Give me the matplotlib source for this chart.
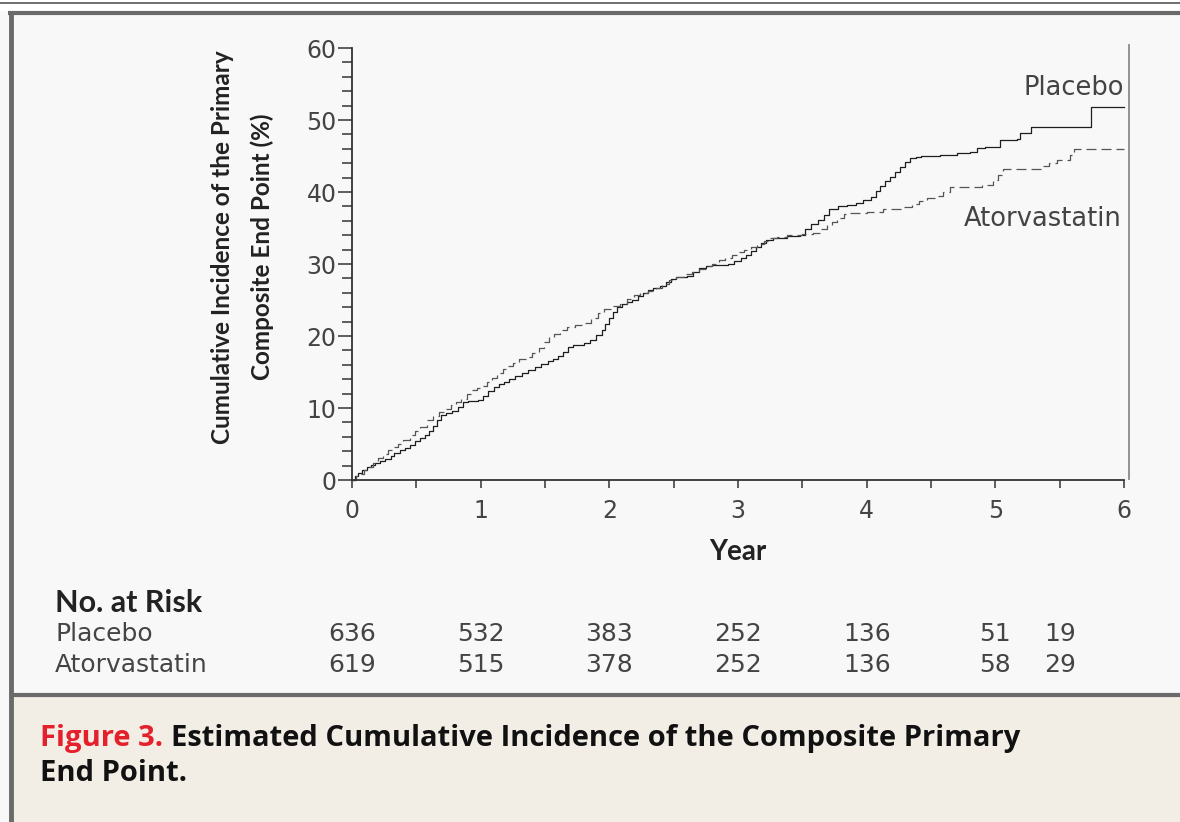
import matplotlib
matplotlib.use("Agg")
import matplotlib.pyplot as plt
from matplotlib.patches import Rectangle
from matplotlib.lines import Line2D

W, H = 1180, 822

# cumulative incidence (%)
placebo_t = [0, 0.02, 0.05, 0.08, 0.12, 0.15, 0.18, 0.22, 0.26, 0.30,
             0.33, 0.37, 0.41, 0.45, 0.49, 0.53, 0.57, 0.60, 0.63, 0.66,
             0.69, 0.73, 0.78, 0.82, 0.86, 0.90, 0.98, 1.02, 1.06, 1.10,
             1.14, 1.18, 1.22, 1.27, 1.32, 1.37, 1.42, 1.47, 1.52, 1.56,
             1.60, 1.64, 1.68, 1.72, 1.80, 1.85, 1.90, 1.94, 1.97, 2.00,
             2.03, 2.06, 2.10, 2.14, 2.18, 2.22, 2.26, 2.30, 2.34, 2.39,
             2.44, 2.48, 2.52, 2.60, 2.65, 2.70, 2.75, 2.80, 2.92, 2.97,
             3.02, 3.06, 3.10, 3.14, 3.18, 3.22, 3.27, 3.38, 3.48, 3.52,
             3.57, 3.62, 3.67, 3.71, 3.78, 3.85, 3.92, 3.97, 4.03, 4.07,
             4.10, 4.14, 4.18, 4.22, 4.26, 4.30, 4.34, 4.38, 4.42, 4.57,
             4.70, 4.80, 4.86, 4.92, 5.00, 5.04, 5.17, 5.19, 5.28, 5.74,
             6.0]
placebo_v = [0, 0.5, 1.0, 1.4, 1.8, 2.1, 2.4, 2.6, 2.9, 3.4,
             3.8, 4.1, 4.4, 4.9, 5.4, 5.8, 6.2, 6.8, 7.5, 8.3,
             9.0, 9.3, 9.6, 10.2, 10.8, 11.0, 11.1, 11.7, 12.3, 12.9,
             13.3, 13.6, 14.0, 14.5, 14.9, 15.3, 15.7, 16.1, 16.5, 16.8,
             17.2, 17.8, 18.5, 18.8, 19.0, 19.5, 20.1, 20.8, 21.6, 22.5,
             23.3, 24.0, 24.4, 24.7, 25.0, 25.5, 26.0, 26.4, 26.7, 27.0,
             27.5, 27.9, 28.2, 28.4, 28.9, 29.4, 29.7, 29.9, 30.0, 30.4,
             30.8, 31.3, 31.8, 32.3, 32.9, 33.3, 33.6, 33.9, 34.0, 34.8,
             35.5, 36.1, 36.8, 37.6, 38.0, 38.2, 38.5, 38.9, 39.3, 40.2,
             40.9, 41.5, 42.1, 42.8, 43.5, 44.1, 44.7, 44.9, 45.0, 45.1,
             45.4, 45.6, 46.1, 46.2, 46.3, 47.2, 47.4, 48.2, 49.0, 51.8,
             51.8]

atorva_t = [0, 0.03, 0.06, 0.09, 0.12, 0.16, 0.20, 0.24, 0.28, 0.32,
            0.36, 0.40, 0.45, 0.49, 0.53, 0.58, 0.63, 0.68, 0.72, 0.77,
            0.81, 0.85, 0.89, 0.93, 0.97, 1.01, 1.05, 1.09, 1.13, 1.17,
            1.21, 1.25, 1.30, 1.35, 1.40, 1.45, 1.49, 1.53, 1.57, 1.62,
            1.67, 1.73, 1.80, 1.86, 1.91, 1.96, 2.02, 2.08, 2.14, 2.19,
            2.24, 2.30, 2.36, 2.41, 2.46, 2.52, 2.58, 2.64, 2.70, 2.75,
            2.80, 2.85, 2.90, 2.95, 3.00, 3.05, 3.10, 3.15, 3.20, 3.25,
            3.30, 3.38, 3.50, 3.58, 3.64, 3.69, 3.73, 3.77, 3.82, 3.87,
            4.00, 4.13, 4.28, 4.35, 4.41, 4.47, 4.53, 4.59, 4.65, 4.90,
            4.98, 5.02, 5.06, 5.37, 5.42, 5.48, 5.58, 5.61, 6.0]
atorva_v = [0, 0.5, 0.9, 1.4, 1.8, 2.4, 3.0, 3.6, 4.1, 4.6,
            5.0, 5.5, 6.2, 6.8, 7.3, 8.3, 8.9, 9.4, 9.9, 10.4,
            10.8, 11.3, 11.9, 12.5, 12.8, 13.1, 13.6, 14.1, 14.8, 15.4,
            15.9, 16.3, 16.8, 17.1, 17.6, 18.4, 19.2, 19.8, 20.3, 20.8,
            21.2, 21.5, 21.8, 22.5, 23.2, 23.7, 24.1, 24.5, 25.1, 25.7,
            26.0, 26.3, 26.7, 27.2, 27.8, 28.2, 28.6, 28.9, 29.3, 29.7,
            30.0, 30.5, 30.9, 31.3, 31.6, 32.0, 32.4, 32.8, 33.2, 33.6,
            33.8, 34.0, 34.1, 34.3, 34.8, 35.4, 35.9, 36.4, 36.9, 37.1,
            37.2, 37.6, 37.9, 38.3, 38.7, 39.1, 39.5, 40.0, 40.7, 41.0,
            41.7, 42.4, 43.2, 43.6, 44.0, 44.4, 45.1, 46.0, 46.0]

risk_years = [0, 1, 2, 3, 4, 5, 5.5]
risk_placebo = [636, 532, 383, 252, 136, 51, 19]
risk_atorva = [619, 515, 378, 252, 136, 58, 29]

x_ticks = [0, 1, 2, 3, 4, 5, 6]
y_ticks = [0, 10, 20, 30, 40, 50, 60]


def fx(px):
    return px / W


def fy(py):
    return 1 - py / H


fig = plt.figure(figsize=(W / 100, H / 100), dpi=100, facecolor="#f8f8f8")

# frame of the journal panel
fig.add_artist(Rectangle((0, fy(11)), 1, 11 / H, transform=fig.transFigure,
                         facecolor="white", edgecolor="none"))
fig.add_artist(Line2D([0, 1], [fy(3), fy(3)], transform=fig.transFigure,
                      color="#555555", lw=1.2))
fig.add_artist(Rectangle((fx(13), 0), 1, fy(697), transform=fig.transFigure,
                         facecolor="#f2ede5", edgecolor="none"))
fig.add_artist(Line2D([fx(8), 1], [fy(13.5), fy(13.5)], transform=fig.transFigure,
                      color="#6a6a6a", lw=3, solid_capstyle="butt"))
fig.add_artist(Line2D([fx(10.5), fx(10.5)], [0, fy(12)], transform=fig.transFigure,
                      color="#6a6a6a", lw=3.5, solid_capstyle="butt"))
fig.add_artist(Line2D([fx(12), 1], [fy(695), fy(695)], transform=fig.transFigure,
                      color="#6a6a6a", lw=3, solid_capstyle="butt"))

ax = fig.add_axes([fx(352), fy(480), fx(1124) - fx(352), fy(48) - fy(480)])
ax.set_facecolor("none")

ax.plot(placebo_t, placebo_v, drawstyle="steps-post", color="#1e1e1e", lw=0.9,
        clip_on=False)
ax.plot(atorva_t, atorva_v, drawstyle="steps-post", color="#555555", lw=0.9,
        dashes=(8, 4), clip_on=False)

ax.set_xlim(0, 6)
ax.set_ylim(0, 60)
for s in ["top", "right"]:
    ax.spines[s].set_visible(False)
for s in ["left", "bottom"]:
    ax.spines[s].set_color("#333333")
    ax.spines[s].set_linewidth(1.3)

# right-hand gray rule
ax.plot([6.04, 6.04], [0.2, 60.4], color="#8a8a8a", lw=1.3, clip_on=False)

ax.set_xticks(x_ticks)
ax.set_xticks([0.5, 1.5, 2.5, 3.5, 4.5, 5.5], minor=True)
ax.set_yticks(y_ticks)
ax.set_yticks(list(range(2, 60, 2)), minor=True)
ax.tick_params(axis="both", which="both", colors="#333333", width=1.1,
               labelcolor="#444444", labelsize=17)
ax.tick_params(axis="y", which="major", length=10, pad=1)
ax.tick_params(axis="y", which="minor", length=7)
ax.tick_params(axis="x", which="both", length=6, pad=8)
for lab in ax.get_xticklabels() + ax.get_yticklabels():
    lab.set_fontfamily("DejaVu Sans")

ax.text(6.0, 52.6, "Placebo", ha="right", va="bottom", fontsize=18.5,
        color="#444444", family="DejaVu Sans")
ax.text(5.98, 34.4, "Atorvastatin", ha="right", va="bottom", fontsize=18.5,
        color="#444444", family="DejaVu Sans")

fig.text(fx(738), fy(552), "Year", ha="center", va="center", fontsize=20,
         fontweight="bold", family="Lato", color="#222222")
fig.text(fx(222), fy(247), "Cumulative Incidence of the Primary", rotation=90,
         ha="center", va="center", fontsize=17.5, fontweight="bold", family="Lato",
         color="#222222")
fig.text(fx(262), fy(247), "Composite End Point (%)", rotation=90,
         ha="center", va="center", fontsize=17.5, fontweight="bold", family="Lato",
         color="#222222")

# number at risk table
fig.text(fx(55), fy(603), "No. at Risk", ha="left", va="center", fontsize=22,
         fontweight="bold", family="Lato", color="#222222")
fig.text(fx(55), fy(634), "Placebo", ha="left", va="center", fontsize=18,
         family="DejaVu Sans", color="#444444")
fig.text(fx(55), fy(665), "Atorvastatin", ha="left", va="center", fontsize=18,
         family="DejaVu Sans", color="#444444")
for yr, p, a in zip(risk_years, risk_placebo, risk_atorva):
    xp = ax.transData.transform((yr, 0))[0] / W
    fig.text(xp, fy(634), str(p), ha="center", va="center", fontsize=18,
             family="DejaVu Sans", color="#444444")
    fig.text(xp, fy(665), str(a), ha="center", va="center", fontsize=18,
             family="DejaVu Sans", color="#444444")

# caption
fig_lab = fig.text(fx(40), fy(738), "Figure 3.", ha="left", va="center",
                   fontsize=21, fontweight="bold", family="Open Sans",
                   color="#e3202b")
fig.canvas.draw()
bb = fig_lab.get_window_extent()
fig.text(bb.x1 / W + fx(8), fy(738),
         "Estimated Cumulative Incidence of the Composite Primary",
         ha="left", va="center", fontsize=21, fontweight="bold",
         family="Open Sans", color="#111111")
fig.text(fx(40), fy(773), "End Point.", ha="left", va="center", fontsize=21,
         fontweight="bold", family="Open Sans", color="#111111")

fig.savefig("out.png", dpi=100, facecolor=fig.get_facecolor())
